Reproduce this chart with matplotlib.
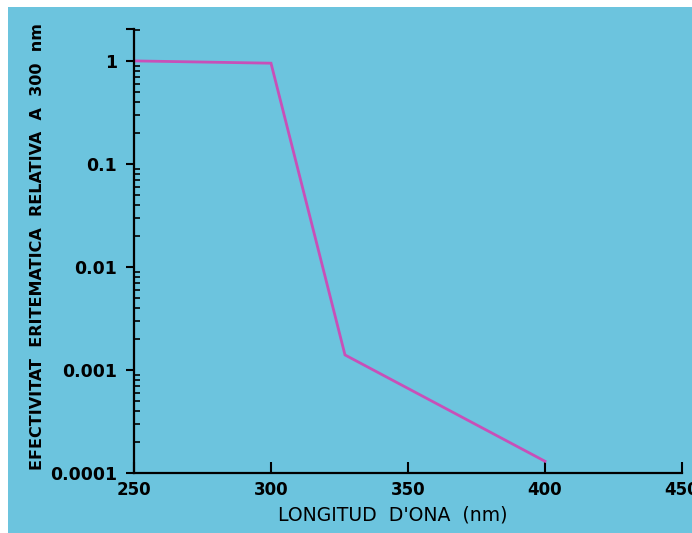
import matplotlib
matplotlib.use("Agg")
import matplotlib.pyplot as plt
from matplotlib.patches import Rectangle
from matplotlib.ticker import LogLocator, NullFormatter

wavelength = [250, 300, 327, 400]
effectiveness = [1.0, 0.95, 0.0014, 0.00013]
x_ticks = [250, 300, 350, 400, 450]
y_ticks = [0.0001, 0.001, 0.01, 0.1, 1]
y_tick_labels = ["0.0001", "0.001", "0.01", "0.1", "1"]
x_label = "LONGITUD  D'ONA  (nm)"
y_label = "EFECTIVITAT  ERITEMATICA  RELATIVA  A  300  nm"

BG = "#6cc4de"
LINE = "#c850b8"

fig = plt.figure(figsize=(6.92, 5.33), dpi=100)
fig.patch.set_facecolor("white")
fig.patches.append(Rectangle((8 / 692, 0), 1 - 8 / 692, 1 - 7 / 533,
                             transform=fig.transFigure, facecolor=BG,
                             edgecolor="none", zorder=-10))

ax = fig.add_axes([134 / 692, 60 / 533, 548 / 692, 444 / 533])
ax.set_zorder(5)
ax.set_facecolor("none")
ax.plot(wavelength, effectiveness, color=LINE, lw=2.0, solid_joinstyle="miter")
ax.set_yscale("log")
ax.set_xlim(250, 450)
ax.set_ylim(1e-4, 2.04)

for s in ["top", "right"]:
    ax.spines[s].set_visible(False)
for s in ["left", "bottom"]:
    ax.spines[s].set_linewidth(1.6)
    ax.spines[s].set_color("black")

top = ax.get_ylim()[1]
ax.set_yticks(y_ticks + [top])
ax.set_yticklabels(y_tick_labels + [""], fontsize=12.5, fontweight="bold")
ax.yaxis.set_minor_locator(LogLocator(base=10, subs=range(2, 10)))
ax.yaxis.set_minor_formatter(NullFormatter())
ax.tick_params(axis="y", which="major", direction="out", length=6, width=1.5, pad=6)
ax.tick_params(axis="y", which="minor", direction="in", length=4, width=1.2)

ax.set_xticks(x_ticks)
ax.set_xticklabels([str(v) for v in x_ticks], fontsize=12, fontweight="bold")
ax.tick_params(axis="x", which="major", direction="in", length=8, width=1.5, pad=6)

ax.set_xlabel(x_label, fontsize=13.6)
ax.xaxis.set_label_coords(0.473, -0.074)
ax.set_ylabel(y_label, fontsize=11.5, fontweight="bold")
ax.yaxis.set_label_coords(-0.163, 0.51)

fig.savefig("out.png", dpi=100, facecolor="white")
